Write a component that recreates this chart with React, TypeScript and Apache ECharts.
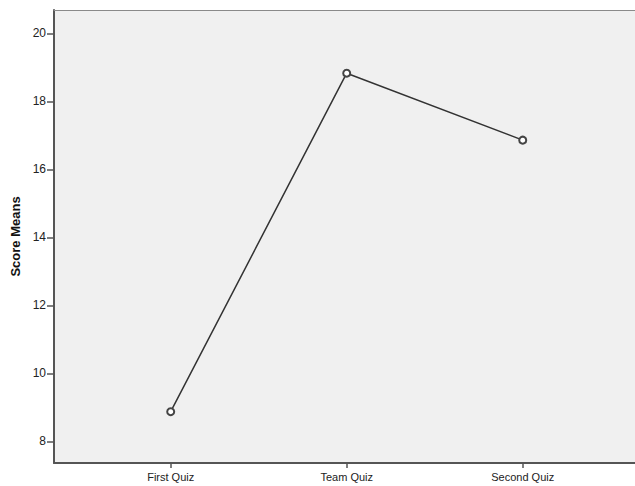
import React, { useEffect, useRef } from "react";
import * as echarts from "echarts";

const categories = ["First Quiz", "Team Quiz", "Second Quiz"];
const scoreMeans = [8.87, 18.83, 16.86];
const yTicks = [8, 10, 12, 14, 16, 18, 20];

export default function App() {
  const ref = useRef<HTMLDivElement>(null);
  useEffect(() => {
    document.body.style.margin = "0";
    const chart = echarts.init(ref.current!, null, { renderer: "svg" });
    const font = "'Liberation Sans', Arial, sans-serif";
    chart.setOption({
      animation: false,
      backgroundColor: "#ffffff",
      grid: {
        left: 54,
        top: 10,
        right: 0,
        bottom: 23,
        show: true,
        backgroundColor: "#f0f0f0",
        borderWidth: 0,
      },
      xAxis: [
        {
          type: "value",
          min: -0.663,
          max: 2.672,
          splitLine: { show: false },
          axisLine: { show: true, onZero: false, lineStyle: { color: "#555", width: 2 } },
          axisTick: { show: true, customValues: [0, 1, 2], length: 5, lineStyle: { color: "#555", width: 1.5 } },
          axisLabel: {
            customValues: [0, 1, 2],
            formatter: (v: number) => categories[Math.round(v)] ?? "",
            color: "#222",
            fontFamily: font,
            fontSize: 11,
            margin: 8,
          },
        },
        {
          type: "value",
          position: "top",
          min: -0.663,
          max: 2.672,
          splitLine: { show: false },
          axisLine: { show: true, onZero: false, lineStyle: { color: "#8a8a8a", width: 1 } },
          axisTick: { show: false },
          axisLabel: { show: false },
        },
      ],
      yAxis: {
        type: "value",
        min: 7.36,
        max: 20.69,
        name: "Score Means",
        nameLocation: "middle",
        nameRotate: 90,
        nameGap: 32,
        nameTextStyle: { fontFamily: font, fontSize: 13, fontWeight: "bold", color: "#111" },
        splitLine: { show: false },
        axisLine: { show: true, onZero: false, lineStyle: { color: "#555", width: 2 } },
        axisTick: { show: true, customValues: yTicks, length: 7, lineStyle: { color: "#555", width: 1.5 } },
        axisLabel: {
          customValues: yTicks,
          color: "#222",
          fontFamily: font,
          fontSize: 12,
          margin: 8,
        },
      },
      series: [
        {
          type: "line",
          data: scoreMeans.map((v, i) => [i, v]),
          symbol: "emptyCircle",
          symbolSize: 7,
          lineStyle: { color: "#333", width: 1.5 },
          itemStyle: { color: "#444", borderColor: "#444", borderWidth: 1.2 },
        },
      ],
    });
    return () => chart.dispose();
  }, []);
  return (
    <div style={{ width: 635, height: 486, overflow: "hidden", position: "relative" }}>
      <div ref={ref} style={{ width: 641, height: 486 }} />
    </div>
  );
}
